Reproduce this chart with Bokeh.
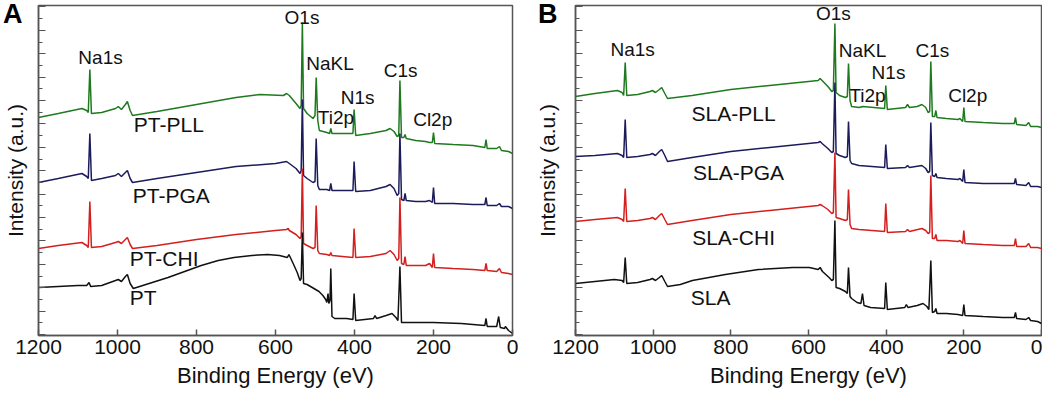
from bokeh.plotting import figure
from bokeh.layouts import row
from bokeh.models import Range1d, SingleIntervalTicker, ColumnDataSource, CustomJSTickFormatter, Div
from bokeh.core.properties import value
from bokeh.embed import file_html
from bokeh.resources import INLINE

# ---------------- data (binding energy in eV, intensity in a.u.) ----------------
# Panel A
pt_pll_be = [1200, 1150, 1090, 1078, 1074, 1070, 1066, 1040, 1005, 998, 990, 980, 975, 968, 962, 900, 800, 700, 640, 580, 572, 565, 548, 538, 535, 532, 529, 520, 505, 500, 497, 493, 489, 470, 463, 460, 457, 420, 404, 401, 397, 360, 320, 310, 300, 292, 288, 285, 281, 275, 272, 269, 245, 220, 210, 203, 200, 197, 150, 100, 70, 67, 64, 40, 33, 28, 10, 0]
pt_pll_int = [217, 221, 226, 224, 222, 265, 221, 222, 226, 228, 225, 230, 233, 224, 219, 223, 230, 237, 240, 239, 241, 239, 231, 226, 229, 312, 226, 221, 216, 219, 257, 214, 204, 202, 201, 206, 201, 201, 201, 225, 199, 201, 204, 206, 203, 198, 199, 254, 197, 197, 200, 196, 194, 193, 192, 192, 202, 191, 190, 189, 187, 195, 186, 186, 188, 184, 183, 181]

pt_pga_be = [1200, 1150, 1090, 1078, 1074, 1070, 1066, 1040, 1005, 998, 990, 980, 975, 968, 962, 900, 800, 700, 600, 572, 565, 548, 538, 535, 532, 529, 520, 505, 500, 497, 493, 489, 470, 463, 460, 457, 404, 401, 397, 360, 320, 310, 300, 292, 288, 285, 281, 275, 272, 269, 245, 220, 210, 203, 200, 197, 150, 100, 70, 67, 64, 40, 33, 28, 10, 0]
pt_pga_int = [152, 156, 161, 158, 156, 201, 154, 156, 159, 161, 158, 162, 164, 156, 152, 156, 162, 168, 171, 173, 171, 166, 161, 164, 235, 159, 156, 152, 153, 196, 149, 145, 145, 144, 151, 144, 144, 173, 143, 144, 148, 150, 146, 139, 141, 201, 135, 134, 141, 134, 133, 133, 134, 132, 147, 131, 131, 130, 130, 137, 129, 129, 131, 128, 128, 126]

pt_chi_be = [1200, 1150, 1090, 1078, 1074, 1070, 1066, 1040, 1005, 998, 990, 980, 975, 968, 962, 900, 800, 700, 600, 572, 568, 565, 548, 538, 535, 532, 529, 520, 505, 500, 497, 493, 489, 470, 463, 460, 457, 404, 401, 397, 360, 320, 310, 300, 292, 288, 285, 281, 275, 272, 269, 245, 220, 210, 203, 200, 197, 150, 100, 70, 67, 64, 40, 33, 28, 10, 0]
pt_chi_int = [86, 89, 92, 89, 87, 133, 87, 88, 92, 93, 91, 95, 97, 90, 86, 89, 95, 100, 104, 105, 106, 104, 100, 96, 98, 166, 91, 89, 86, 87, 129, 84, 81, 80, 79, 82, 79, 77, 106, 77, 78, 81, 84, 80, 74, 76, 137, 71, 70, 78, 69, 69, 69, 71, 67, 81, 67, 66, 65, 64, 71, 64, 63, 66, 62, 61, 60]

pt_be = [1200, 1150, 1100, 1078, 1072, 1068, 1040, 1005, 998, 990, 980, 975, 968, 960, 920, 872, 830, 788, 745, 705, 660, 620, 590, 570, 566, 560, 553, 545, 538, 535, 532, 529, 520, 507, 490, 480, 473, 470, 467, 465, 462, 460, 457, 450, 420, 404, 401, 397, 352, 348, 344, 320, 305, 295, 290, 285, 281, 250, 200, 130, 100, 70, 67, 64, 40, 35, 31, 20, 18, 10, 0]
pt_int = [47, 48, 49, 49, 52, 48, 49, 54, 55, 53, 58, 60, 51, 46, 51, 57, 63, 69, 74, 77, 79, 80, 79, 77, 80, 75, 69, 62, 54, 56, 102, 51, 50, 47, 43, 39, 35, 32, 41, 31, 34, 66, 18, 16, 16, 15, 41, 14, 16, 19, 16, 19, 21, 17, 14, 68, 12, 12, 12, 11, 10, 9, 16, 8, 8, 18, 7, 6, 8, 4, 1]

# Panel B
sla_pll_be = [1200, 1150, 1092, 1080, 1076, 1072, 1068, 1040, 1008, 1002, 994, 984, 978, 970, 963, 900, 800, 700, 600, 575, 570, 565, 550, 540, 536, 532, 529, 520, 505, 500, 497, 493, 489, 470, 460, 404, 401, 397, 350, 345, 340, 320, 308, 298, 292, 288, 285, 281, 275, 272, 269, 245, 215, 210, 203, 200, 197, 150, 100, 70, 67, 64, 40, 33, 28, 10, 0]
sla_pll_int = [238, 241, 244, 242, 239, 272, 239, 240, 243, 244, 242, 245, 247, 241, 236, 239, 245, 249, 253, 254, 256, 254, 248, 243, 244, 311, 242, 239, 237, 238, 271, 234, 228, 227, 228, 226, 249, 225, 227, 230, 227, 228, 230, 227, 222, 223, 273, 218, 218, 224, 217, 216, 215, 216, 213, 227, 213, 212, 211, 211, 217, 210, 209, 212, 208, 208, 207]

sla_pga_be = [1200, 1150, 1092, 1080, 1076, 1072, 1068, 1040, 1008, 1002, 994, 984, 978, 970, 963, 900, 800, 700, 600, 575, 570, 565, 550, 540, 536, 532, 529, 520, 505, 500, 497, 493, 489, 470, 404, 401, 397, 350, 345, 340, 308, 298, 292, 288, 285, 281, 275, 272, 269, 245, 215, 210, 203, 200, 197, 150, 100, 70, 67, 64, 40, 33, 28, 10, 0]
sla_pga_int = [178, 179, 181, 179, 177, 215, 177, 178, 180, 181, 179, 183, 185, 179, 173, 177, 183, 187, 191, 192, 193, 191, 186, 182, 183, 252, 181, 179, 177, 178, 213, 174, 171, 169, 167, 190, 166, 167, 169, 167, 169, 166, 162, 163, 212, 159, 158, 161, 157, 156, 155, 156, 153, 165, 152, 151, 151, 151, 156, 150, 149, 152, 148, 148, 147]

sla_chi_be = [1200, 1150, 1092, 1080, 1076, 1072, 1068, 1040, 1008, 1002, 994, 984, 978, 970, 963, 900, 800, 700, 600, 575, 570, 565, 550, 540, 536, 532, 529, 520, 505, 500, 497, 493, 489, 470, 404, 401, 397, 350, 345, 340, 308, 298, 292, 288, 285, 281, 275, 272, 269, 245, 215, 210, 203, 200, 197, 150, 100, 70, 67, 64, 40, 33, 28, 10, 0]
sla_chi_int = [113, 115, 117, 115, 113, 146, 113, 114, 116, 117, 115, 119, 121, 115, 110, 114, 120, 124, 128, 129, 130, 129, 125, 121, 122, 182, 117, 116, 114, 115, 145, 110, 106, 105, 103, 131, 102, 103, 105, 103, 106, 104, 101, 102, 159, 96, 96, 100, 94, 94, 93, 94, 91, 104, 91, 90, 89, 89, 96, 88, 88, 91, 87, 87, 86]

sla_be = [1200, 1150, 1100, 1080, 1076, 1072, 1068, 1040, 1008, 1002, 994, 984, 978, 970, 963, 930, 899, 814, 729, 641, 598, 575, 570, 564, 547, 540, 536, 532, 529, 520, 505, 500, 497, 493, 489, 475, 465, 461, 457, 440, 404, 401, 397, 352, 348, 344, 320, 305, 295, 290, 285, 281, 275, 272, 269, 245, 215, 203, 200, 197, 150, 100, 70, 67, 64, 40, 33, 28, 10, 0]
sla_int = [51, 53, 55, 54, 52, 77, 51, 52, 55, 56, 54, 57, 59, 53, 48, 50, 54, 60, 65, 67, 67, 65, 67, 63, 57, 54, 55, 114, 47, 46, 43, 41, 67, 38, 36, 32, 31, 41, 29, 27, 26, 52, 25, 27, 30, 27, 29, 31, 28, 25, 74, 22, 23, 26, 21, 21, 20, 19, 30, 19, 18, 17, 17, 22, 16, 15, 17, 14, 13, 11]

# Text labels
peak_names = ["Na1s", "O1s", "NaKL", "N1s", "Ti2p", "C1s", "Cl2p"]
a_peak_x = [1043, 533, 462, 392, 447, 283, 202]
a_peak_y = [277, 317, 271, 237, 217, 264, 215]
b_peak_x = [1053, 536, 461, 394, 448, 281, 190]
b_peak_y = [285, 321, 284, 262, 239, 284, 239]

a_samples = ["PT-PLL", "PT-PGA", "PT-CHI", "PT"]
a_sample_x = [870, 864, 882, 935]
a_sample_y = [210, 139, 76, 37]
b_samples = ["SLA-PLL", "SLA-PGA", "SLA-CHI", "SLA"]
b_sample_x = [793, 780, 793, 852]
b_sample_y = [221, 162, 97, 37]

panel_letters = ["A", "B"]

x_ticks_interval = 200
colors = ["#1f7a1f", "#1c1c5c", "#d41f1f", "#111111"]

FONT = "Liberation Sans"
AXIS_COLOR = "#555555"


def make_panel(width, border_left, border_right, title_standoff, series, pk_x, pk_y,
               samples, s_x, s_y):
    p = figure(width=width, height=397, output_backend="svg", toolbar_location=None,
               x_range=Range1d(1200, 0), y_range=Range1d(-1, 329),
               min_border_left=border_left, min_border_right=border_right,
               min_border_top=5, min_border_bottom=62,
               background_fill_color="white", border_fill_color="white")
    p.grid.visible = False
    p.outline_line_color = AXIS_COLOR
    p.outline_line_width = 1.5

    for (be, inten), c in zip(series, colors):
        p.line(be, inten, line_color=c, line_width=1.5)

    src = ColumnDataSource(dict(x=pk_x, y=pk_y, t=peak_names))
    p.text(x="x", y="y", text="t", source=src, text_font=value(FONT),
           text_font_size="19px", text_align="center", text_baseline="middle",
           text_color="#111111")
    src2 = ColumnDataSource(dict(x=s_x, y=s_y, t=samples))
    p.text(x="x", y="y", text="t", source=src2, text_font=value(FONT),
           text_font_size="21px", text_align="center", text_baseline="middle",
           text_color="#111111")

    # x axis
    xa = p.xaxis[0]
    xa.ticker = SingleIntervalTicker(interval=x_ticks_interval, num_minor_ticks=0)
    xa.axis_label = "Binding Energy (eV)"
    xa.axis_label_text_font = FONT
    xa.axis_label_text_font_style = "normal"
    xa.axis_label_text_font_size = "22px"
    xa.axis_label_text_color = "#111111"
    xa.axis_label_standoff = 6
    xa.major_label_text_font = FONT
    xa.major_label_text_font_size = "21px"
    xa.major_label_text_color = "#111111"
    xa.major_label_standoff = 4
    xa.major_tick_in = 6
    xa.major_tick_out = 0
    xa.axis_line_color = AXIS_COLOR
    xa.axis_line_width = 1.5
    xa.major_tick_line_color = AXIS_COLOR
    xa.major_tick_line_width = 1.5

    # y axis (no tick labels)
    ya = p.yaxis[0]
    ya.ticker = SingleIntervalTicker(interval=23.4, num_minor_ticks=2)
    ya.formatter = CustomJSTickFormatter(code="return ''")
    ya.axis_label = "Intensity (a.u.)"
    ya.axis_label_text_font = FONT
    ya.axis_label_text_font_style = "normal"
    ya.axis_label_text_font_size = "21px"
    ya.axis_label_text_color = "#111111"
    ya.axis_label_standoff = title_standoff
    ya.major_label_standoff = 0
    ya.major_tick_in = 7
    ya.major_tick_out = 0
    ya.minor_tick_in = 4
    ya.minor_tick_out = 0
    ya.axis_line_color = AXIS_COLOR
    ya.axis_line_width = 1.5
    ya.major_tick_line_color = AXIS_COLOR
    ya.minor_tick_line_color = AXIS_COLOR
    return p


pA = make_panel(520, 37, 8, 12,
                [(pt_pll_be, pt_pll_int), (pt_pga_be, pt_pga_int),
                 (pt_chi_be, pt_chi_int), (pt_be, pt_int)],
                a_peak_x, a_peak_y, a_samples, a_sample_x, a_sample_y)
pB = make_panel(522, 55, 1, 17,
                [(sla_pll_be, sla_pll_int), (sla_pga_be, sla_pga_int),
                 (sla_chi_be, sla_chi_int), (sla_be, sla_int)],
                b_peak_x, b_peak_y, b_samples, b_sample_x, b_sample_y)


def letter_div(txt, left):
    return Div(text=txt, width=30, height=30,
               styles={"position": "absolute", "left": f"{left}px", "top": "-1px",
                       "font-family": FONT, "font-size": "27px", "font-weight": "bold",
                       "color": "#000000", "line-height": "30px", "z-index": "10",
                       "margin": "0px", "padding": "0px"})


divA = letter_div(panel_letters[0], 3)
divB = letter_div(panel_letters[1], 538)

layout = row(pA, pB, divA, divB)
open("out.html", "w").write(file_html(layout, INLINE))
